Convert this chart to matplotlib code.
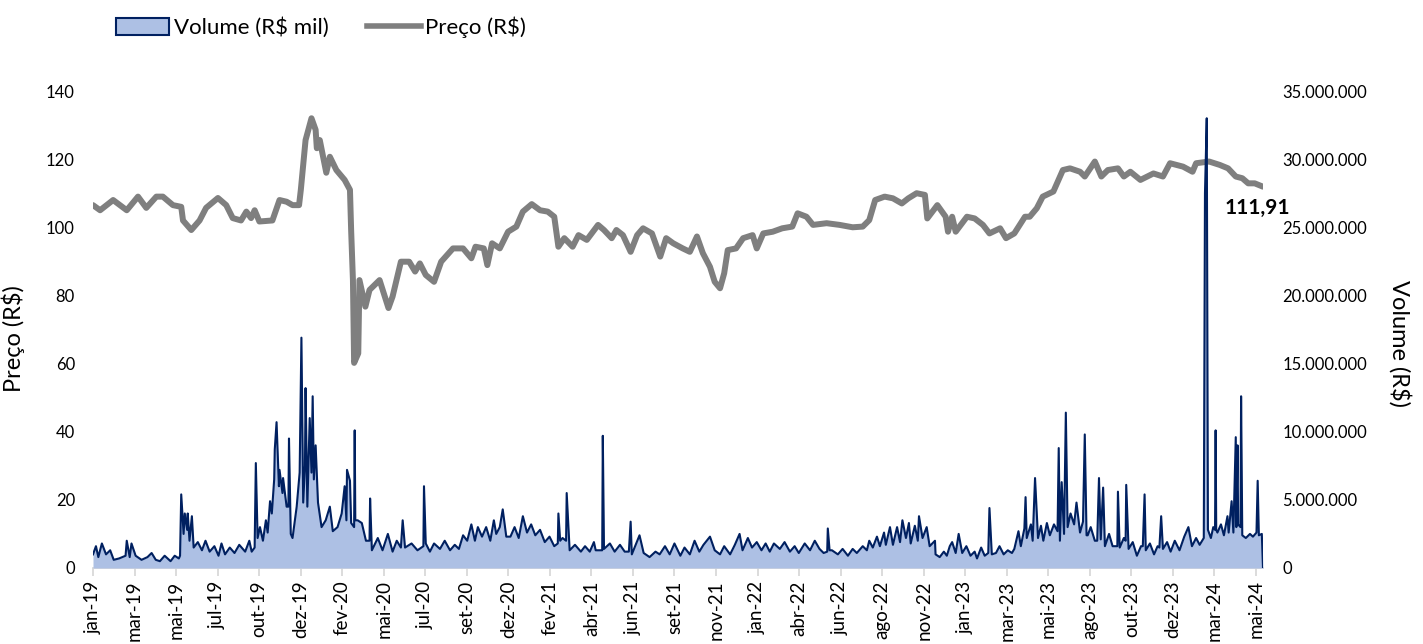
import pandas as pd
import numpy as np
import matplotlib
matplotlib.use('Agg')
import matplotlib.pyplot as plt
from matplotlib.patches import Patch
from matplotlib.lines import Line2D
from matplotlib.ticker import FuncFormatter, MultipleLocator

plt.rcParams['font.family'] = ['Lato', 'DejaVu Sans']

# Price (R$)
price_dates = [
    '2019-01-02', '2019-01-14', '2019-02-05', '2019-02-28', '2019-03-19', '2019-04-02', '2019-04-19',
    '2019-04-30', '2019-05-17', '2019-05-31', '2019-06-03', '2019-06-17', '2019-07-01', '2019-07-12',
    '2019-08-01', '2019-08-15', '2019-08-26', '2019-09-09', '2019-09-18', '2019-09-26', '2019-10-02',
    '2019-10-10', '2019-11-01', '2019-11-13', '2019-11-25', '2019-12-05', '2019-12-16', '2019-12-19',
    '2019-12-27', '2020-01-06', '2020-01-13', '2020-01-15', '2020-01-20', '2020-01-31', '2020-02-06',
    '2020-02-17', '2020-03-02', '2020-03-11', '2020-03-13', '2020-03-16', '2020-03-18', '2020-03-25',
    '2020-03-27', '2020-04-06', '2020-04-13', '2020-04-30', '2020-05-15', '2020-05-22', '2020-06-05',
    '2020-06-19', '2020-06-29', '2020-07-07', '2020-07-17', '2020-07-31', '2020-08-12', '2020-09-01',
    '2020-09-18', '2020-10-02', '2020-10-09', '2020-10-23', '2020-10-29', '2020-11-06', '2020-11-19',
    '2020-12-03', '2020-12-17', '2020-12-28', '2021-01-12', '2021-01-26', '2021-02-08', '2021-02-19',
    '2021-02-26', '2021-03-08', '2021-03-22', '2021-04-01', '2021-04-15', '2021-05-04', '2021-05-14',
    '2021-05-27', '2021-06-04', '2021-06-15', '2021-06-28', '2021-07-09', '2021-07-19', '2021-08-03',
    '2021-08-17', '2021-08-27', '2021-09-08', '2021-09-24', '2021-10-06', '2021-10-18', '2021-10-28',
    '2021-11-09', '2021-11-17', '2021-11-26', '2021-12-03', '2021-12-09', '2021-12-23', '2022-01-04',
    '2022-01-20', '2022-01-27', '2022-02-07', '2022-02-23', '2022-03-11', '2022-03-28', '2022-04-06',
    '2022-04-21', '2022-05-02', '2022-05-25', '2022-06-16', '2022-07-08', '2022-07-25', '2022-08-05',
    '2022-08-15', '2022-08-31', '2022-09-14', '2022-09-29', '2022-10-10', '2022-10-24', '2022-11-07',
    '2022-11-11', '2022-11-28', '2022-12-12', '2022-12-16', '2022-12-23', '2022-12-29', '2023-01-17',
    '2023-01-30', '2023-02-13', '2023-02-24', '2023-03-14', '2023-03-24', '2023-04-07', '2023-04-25',
    '2023-05-03', '2023-05-15', '2023-05-25', '2023-06-12', '2023-06-28', '2023-07-10', '2023-07-27',
    '2023-08-04', '2023-08-21', '2023-09-01', '2023-09-12', '2023-09-29', '2023-10-09', '2023-10-20',
    '2023-11-06', '2023-11-28', '2023-12-14', '2023-12-26', '2024-01-17', '2024-02-02', '2024-02-08',
    '2024-03-01', '2024-03-19', '2024-04-02', '2024-04-15', '2024-04-26', '2024-05-06', '2024-05-17',
    '2024-05-31',
]
price_values = [
    106.5, 105.0, 108.0, 105.0, 109.0, 105.7, 109.0,
    109.0, 106.5, 106.0, 102.0, 99.2, 102.0, 105.7,
    108.6, 106.5, 102.7, 102.0, 104.6, 102.7, 105.0,
    101.7, 102.0, 108.0, 107.5, 106.5, 106.5, 111.0,
    125.6, 132.0, 128.6, 123.2, 125.6, 116.0, 120.7,
    116.8, 113.9, 111.0, 99.0, 84.5, 60.2, 63.0,
    84.5, 76.7, 81.6, 84.5, 76.3, 79.7, 89.9,
    89.9, 87.0, 89.4, 86.0, 84.0, 89.9, 93.8,
    93.8, 90.9, 94.3, 93.8, 88.9, 95.3, 93.8,
    98.7, 100.2, 104.6, 106.8, 105.0, 104.6, 103.1,
    94.3, 96.8, 94.3, 97.7, 96.3, 100.7, 99.2,
    96.8, 99.2, 97.7, 92.8, 97.7, 99.7, 98.2,
    91.4, 96.8, 95.3, 93.8, 92.8, 97.3, 92.4,
    88.4, 84.0, 82.1, 86.5, 93.3, 93.8, 96.8,
    97.7, 93.8, 98.2, 98.7, 99.7, 100.2, 104.1,
    103.1, 100.7, 101.2, 100.7, 100.0, 100.2, 102.1,
    108.0, 109.0, 108.5, 107.0, 108.5, 110.0, 109.5,
    102.6, 106.5, 103.1, 98.7, 103.1, 98.7, 103.1,
    102.6, 100.7, 98.2, 99.7, 96.8, 98.2, 103.1,
    103.1, 105.6, 109.0, 110.5, 116.8, 117.3, 116.3,
    114.9, 119.3, 114.9, 116.8, 117.3, 114.9, 116.3,
    113.9, 115.8, 114.9, 118.8, 117.8, 116.3, 118.8,
    119.3, 118.3, 117.3, 114.9, 114.4, 112.9, 112.9,
    111.91,
]

# Volume (R$ millions)
volume_dates = [
    '2019-01-02', '2019-01-07', '2019-01-11', '2019-01-17', '2019-01-24', '2019-01-31', '2019-02-06',
    '2019-02-15', '2019-02-26', '2019-02-28', '2019-03-05', '2019-03-08', '2019-03-15', '2019-03-25',
    '2019-04-04', '2019-04-11', '2019-04-18', '2019-04-25', '2019-05-03', '2019-05-13', '2019-05-20',
    '2019-05-27', '2019-05-29', '2019-05-31', '2019-06-04', '2019-06-06', '2019-06-10', '2019-06-11',
    '2019-06-14', '2019-06-18', '2019-06-21', '2019-06-28', '2019-07-05', '2019-07-11', '2019-07-18',
    '2019-07-26', '2019-08-02', '2019-08-07', '2019-08-13', '2019-08-21', '2019-08-29', '2019-09-06',
    '2019-09-16', '2019-09-23', '2019-09-27', '2019-10-02', '2019-10-04', '2019-10-07', '2019-10-11',
    '2019-10-16', '2019-10-21', '2019-10-24', '2019-10-28', '2019-10-31', '2019-11-04', '2019-11-05',
    '2019-11-08', '2019-11-12', '2019-11-13', '2019-11-18', '2019-11-19', '2019-11-25', '2019-11-28',
    '2019-11-29', '2019-12-02', '2019-12-05', '2019-12-12', '2019-12-17', '2019-12-20', '2019-12-23',
    '2019-12-26', '2019-12-27', '2019-12-30', '2020-01-03', '2020-01-06', '2020-01-08', '2020-01-10',
    '2020-01-13', '2020-01-17', '2020-01-23', '2020-01-30', '2020-02-06', '2020-02-11', '2020-02-19',
    '2020-02-26', '2020-03-02', '2020-03-05', '2020-03-06', '2020-03-11', '2020-03-13', '2020-03-18',
    '2020-03-19', '2020-03-20', '2020-03-24', '2020-03-31', '2020-04-07', '2020-04-13', '2020-04-14',
    '2020-04-17', '2020-04-27', '2020-05-05', '2020-05-14', '2020-05-22', '2020-05-29', '2020-06-05',
    '2020-06-08', '2020-06-12', '2020-06-23', '2020-07-03', '2020-07-13', '2020-07-14', '2020-07-17',
    '2020-07-24', '2020-07-31', '2020-08-10', '2020-08-18', '2020-08-27', '2020-09-04', '2020-09-11',
    '2020-09-18', '2020-09-25', '2020-10-02', '2020-10-08', '2020-10-13', '2020-10-20', '2020-10-27',
    '2020-11-03', '2020-11-09', '2020-11-13', '2020-11-19', '2020-11-24', '2020-11-30', '2020-12-07',
    '2020-12-14', '2020-12-21', '2020-12-28', '2021-01-04', '2021-01-11', '2021-01-18', '2021-01-26',
    '2021-02-03', '2021-02-11', '2021-02-19', '2021-02-25', '2021-02-26', '2021-03-01', '2021-03-05',
    '2021-03-11', '2021-03-12', '2021-03-17', '2021-03-26', '2021-04-05', '2021-04-12', '2021-04-20',
    '2021-04-27', '2021-04-30', '2021-05-11', '2021-05-12', '2021-05-14', '2021-05-24', '2021-06-01',
    '2021-06-10', '2021-06-18', '2021-06-25', '2021-06-28', '2021-06-30', '2021-07-13', '2021-07-20',
    '2021-07-30', '2021-08-09', '2021-08-16', '2021-08-25', '2021-09-02', '2021-09-10', '2021-09-20',
    '2021-09-27', '2021-10-06', '2021-10-14', '2021-10-22', '2021-10-29', '2021-11-09', '2021-11-17',
    '2021-11-26', '2021-12-03', '2021-12-13', '2021-12-21', '2021-12-29', '2022-01-03', '2022-01-12',
    '2022-01-19', '2022-01-27', '2022-02-04', '2022-02-11', '2022-02-18', '2022-02-25', '2022-03-07',
    '2022-03-15', '2022-03-24', '2022-04-01', '2022-04-08', '2022-04-18', '2022-04-27', '2022-05-05',
    '2022-05-13', '2022-05-20', '2022-05-26', '2022-05-27', '2022-05-30', '2022-06-03', '2022-06-13',
    '2022-06-21', '2022-06-30', '2022-07-08', '2022-07-15', '2022-07-25', '2022-08-01', '2022-08-05',
    '2022-08-11', '2022-08-18', '2022-08-23', '2022-08-30', '2022-09-02', '2022-09-09', '2022-09-14',
    '2022-09-21', '2022-09-26', '2022-09-30', '2022-10-06', '2022-10-11', '2022-10-14', '2022-10-21',
    '2022-10-26', '2022-10-28', '2022-11-03', '2022-11-10', '2022-11-15', '2022-11-24', '2022-11-25',
    '2022-12-02', '2022-12-09', '2022-12-14', '2022-12-19', '2022-12-23', '2022-12-29', '2023-01-03',
    '2023-01-09', '2023-01-16', '2023-01-23', '2023-01-30', '2023-02-03', '2023-02-10', '2023-02-16',
    '2023-02-22', '2023-02-24', '2023-02-28', '2023-03-07', '2023-03-13', '2023-03-20', '2023-03-27',
    '2023-04-03', '2023-04-07', '2023-04-14', '2023-04-18', '2023-04-24', '2023-04-26', '2023-04-28',
    '2023-05-05', '2023-05-08', '2023-05-12', '2023-05-17', '2023-05-22', '2023-05-26', '2023-06-01',
    '2023-06-06', '2023-06-13', '2023-06-19', '2023-06-21', '2023-06-23', '2023-06-26', '2023-06-30',
    '2023-07-03', '2023-07-06', '2023-07-11', '2023-07-17', '2023-07-21', '2023-07-27', '2023-08-01',
    '2023-08-04', '2023-08-07', '2023-08-09', '2023-08-14', '2023-08-21', '2023-08-25', '2023-08-28',
    '2023-08-31', '2023-09-04', '2023-09-07', '2023-09-14', '2023-09-20', '2023-09-28', '2023-09-29',
    '2023-10-02', '2023-10-09', '2023-10-12', '2023-10-13', '2023-10-17', '2023-10-24', '2023-10-31',
    '2023-11-07', '2023-11-10', '2023-11-13', '2023-11-15', '2023-11-22', '2023-11-29', '2023-12-05',
    '2023-12-08', '2023-12-11', '2023-12-14', '2023-12-21', '2023-12-27', '2024-01-03', '2024-01-11',
    '2024-01-19', '2024-01-26', '2024-02-01', '2024-02-08', '2024-02-14', '2024-02-21', '2024-02-23',
    '2024-02-26', '2024-02-28', '2024-03-04', '2024-03-08', '2024-03-11', '2024-03-12', '2024-03-13',
    '2024-03-15', '2024-03-21', '2024-03-26', '2024-04-01', '2024-04-03', '2024-04-08', '2024-04-11',
    '2024-04-15', '2024-04-16', '2024-04-18', '2024-04-19', '2024-04-23', '2024-04-24', '2024-04-26',
    '2024-05-02', '2024-05-09', '2024-05-14', '2024-05-20', '2024-05-22', '2024-05-24', '2024-05-29',
    '2024-05-31',
]
volume_mm = [
    1.0, 1.6, 0.8, 1.8, 1.0, 1.3, 0.6,
    0.7, 0.9, 2.0, 0.8, 1.8, 0.9, 0.6,
    0.8, 1.1, 0.6, 0.5, 0.9, 0.5, 0.9,
    0.7, 0.9, 5.4, 2.5, 4.0, 2.8, 4.0,
    2.0, 3.8, 1.5, 1.9, 1.3, 2.0, 1.2,
    1.6, 0.9, 1.8, 1.0, 1.5, 1.1, 1.7,
    1.2, 2.0, 1.2, 1.5, 7.7, 2.2, 3.0,
    2.0, 3.5, 2.6, 4.9, 4.0, 6.5, 8.7,
    10.7, 6.0, 7.2, 5.5, 6.6, 4.5, 4.5,
    9.5, 2.5, 2.2, 4.5, 7.0, 16.9, 4.8,
    7.5, 13.2, 4.5, 11.0, 7.0, 12.6, 6.5,
    9.0, 4.8, 3.0, 3.5, 4.5, 2.7, 3.0,
    4.0, 6.0, 3.5, 7.2, 6.4, 3.3, 3.0,
    10.1, 3.5, 3.5, 3.3, 2.0, 2.0, 5.1,
    1.3, 2.2, 1.3, 2.5, 1.2, 2.0, 1.5,
    3.5, 1.5, 1.8, 1.3, 1.6, 6.0, 1.8,
    1.2, 1.8, 1.4, 2.0, 1.3, 1.7, 1.4,
    2.4, 2.0, 3.2, 2.0, 3.0, 2.3, 3.0,
    2.0, 3.5, 2.5, 3.0, 4.3, 2.3, 2.3,
    3.0, 2.2, 3.8, 2.6, 3.2, 2.4, 2.8,
    1.9, 2.3, 1.6, 1.8, 4.0, 2.0, 2.2,
    2.0, 5.5, 1.3, 1.7, 1.2, 1.6, 1.2,
    1.9, 1.3, 1.3, 9.7, 1.4, 1.8, 1.2,
    1.7, 1.2, 1.2, 3.4, 1.0, 2.4, 1.1,
    0.8, 1.2, 1.0, 1.6, 1.0, 1.8, 0.9,
    1.5, 1.0, 2.0, 1.2, 1.7, 2.3, 1.3,
    1.0, 1.6, 1.0, 1.7, 2.5, 1.3, 2.2,
    1.5, 1.9, 1.3, 1.8, 1.2, 1.8, 1.4,
    1.9, 1.2, 1.6, 1.1, 1.8, 1.3, 2.0,
    1.4, 1.1, 1.2, 2.9, 1.3, 1.3, 1.0,
    1.4, 0.9, 1.4, 1.1, 1.6, 1.3, 2.0,
    1.5, 2.3, 1.6, 2.6, 1.7, 3.0, 1.7,
    3.0, 1.9, 3.5, 2.2, 3.3, 1.8, 3.1,
    2.0, 3.8, 2.2, 3.0, 1.6, 2.0, 1.0,
    0.8, 1.2, 0.9, 1.6, 1.9, 1.1, 2.5,
    1.1, 1.6, 0.9, 1.2, 0.7, 1.5, 0.9,
    1.1, 4.4, 1.0, 1.1, 1.6, 1.0, 1.3,
    1.1, 1.4, 2.7, 1.6, 2.9, 5.2, 2.2,
    3.2, 2.0, 6.6, 2.2, 3.1, 2.0, 3.3,
    2.4, 3.2, 2.7, 8.8, 2.0, 6.3, 2.5,
    11.4, 3.0, 4.0, 3.2, 4.8, 2.6, 3.4,
    9.8, 2.4, 2.4, 3.0, 2.0, 2.0, 6.6,
    2.1, 5.9, 1.6, 2.5, 1.6, 1.6, 5.6,
    1.5, 2.2, 2.0, 6.1, 1.4, 1.9, 0.9,
    1.6, 1.6, 5.4, 1.3, 1.8, 1.0, 1.6,
    1.5, 3.8, 1.4, 1.9, 1.2, 2.0, 1.3,
    2.3, 3.0, 1.6, 2.2, 1.7, 2.2, 27.5,
    33.0, 2.8, 2.2, 3.0, 2.8, 10.1, 2.8,
    2.6, 3.2, 2.4, 3.8, 2.6, 4.9, 2.6,
    9.6, 3.0, 9.0, 3.2, 3.0, 12.6, 2.4,
    2.2, 2.5, 2.3, 2.6, 6.4, 2.4, 2.5,
    0.0,
]

x_labels = ['jan-19', 'mar-19', 'mai-19', 'jul-19', 'out-19', 'dez-19', 'fev-20', 'mai-20',
            'jul-20', 'set-20', 'dez-20', 'fev-21', 'abr-21', 'jun-21', 'set-21', 'nov-21',
            'jan-22', 'abr-22', 'jun-22', 'ago-22', 'nov-22', 'jan-23', 'mar-23', 'mai-23',
            'ago-23', 'out-23', 'dez-23', 'mar-24', 'mai-24']
last_price_label = '111,91'

price = pd.Series(price_values, index=pd.to_datetime(price_dates)).sort_index()
volume = (pd.Series(volume_mm, index=pd.to_datetime(volume_dates)) * 1e6).sort_index()

GRAY = '#7f7f7f'
NAVY = '#002060'
FILL = '#adc0e4'

fig = plt.figure(figsize=(14.23, 6.44), dpi=100)
ax = fig.add_axes([93 / 1423, 76 / 644, 1170 / 1423, 477 / 644])
ax2 = ax.twinx()

# price on left axis
ax.plot(price.index, price.values, color=GRAY, linewidth=4.3, solid_capstyle='round',
        solid_joinstyle='round', zorder=3)
ax.set_ylim(0, 140)
ax.yaxis.set_major_locator(MultipleLocator(20))

# volume on right axis (drawn above the price line like the original)
ax2.fill_between(volume.index, volume.values, 0, color=FILL, linewidth=0)
ax2.plot(volume.index, volume.values, color=NAVY, linewidth=1.5)
ax2.set_ylim(0, 35e6)
ax2.yaxis.set_major_locator(MultipleLocator(5e6))
ax2.yaxis.set_major_formatter(FuncFormatter(lambda v, p: f'{int(v):,}'.replace(',', '.')))

x0, x1 = price.index[0], price.index[-1]
ax.set_xlim(x0, x1)
span = (x1 - x0) * (1163 / 1170)
tick_pos = [x0 + span * k / (len(x_labels) - 1) for k in range(len(x_labels))]
ax.set_xticks(tick_pos)
ax.set_xticklabels(x_labels, rotation=90, fontsize=13.5)

for a in (ax, ax2):
    for s in ('top', 'left', 'right'):
        a.spines[s].set_visible(False)
ax2.spines['bottom'].set_visible(False)
ax.spines['bottom'].set_color('#d9d9d9')
ax.spines['bottom'].set_linewidth(1.3)
ax.tick_params(axis='x', length=6, color='#d9d9d9', width=1.3, pad=3, labelcolor='black')
ax.tick_params(axis='y', length=0, pad=13, labelsize=12)
ax2.tick_params(axis='y', length=0, pad=14, labelsize=12)

ax.set_ylabel('Preço (R$)', fontsize=17)
ax.yaxis.set_label_coords(-0.058, 0.48)
ax2.set_ylabel('Volume (R$)', fontsize=17, rotation=-90, va='center')
ax2.yaxis.set_label_coords(1.117, 0.47)

ax.annotate(last_price_label, xy=(price.index[-1], price.values[-1]), xytext=(-6, -21),
            textcoords='offset pixels', ha='center', va='center', fontsize=15,
            fontweight='bold', zorder=5)

handles = [Patch(facecolor=FILL, edgecolor=NAVY, linewidth=1.5),
           Line2D([0], [0], color=GRAY, linewidth=4)]
fig.legend(handles, ['Volume (R$ mil)', 'Preço (R$)'], ncol=2, frameon=False,
           loc='center left', bbox_to_anchor=(116 / 1423, 1 - 27 / 644), fontsize=16,
           borderpad=0, borderaxespad=0, handlelength=2.4, handleheight=0.8,
           handletextpad=0.2, columnspacing=1.75)

plt.savefig('out.png', dpi=100)
